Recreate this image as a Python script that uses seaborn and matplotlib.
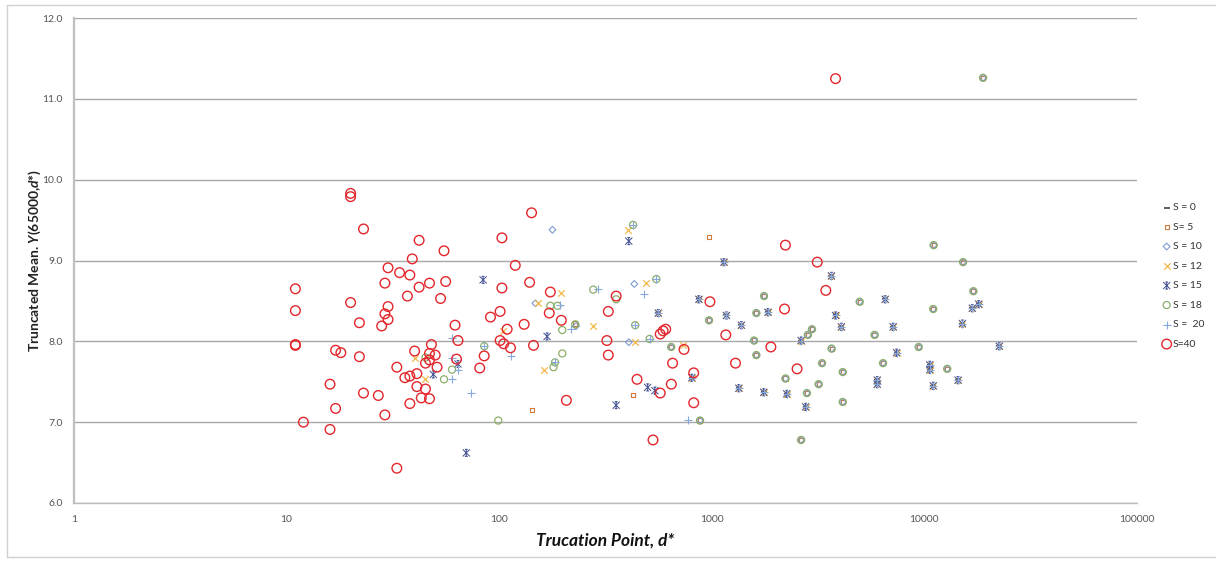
import numpy as np
import matplotlib
matplotlib.use("Agg")
import matplotlib.pyplot as plt
from matplotlib.path import Path
from matplotlib.markers import MarkerStyle
from matplotlib.lines import Line2D
import seaborn as sns

# ---------------- data ----------------
# truncation point d* (x) and truncated mean (y) for each series S
s40_x = [11, 11, 11, 11, 12, 16, 16, 17, 17, 18, 20, 20, 20, 22, 22, 23, 23, 27, 28, 29,
         29, 29, 30, 30, 30, 33, 33, 34, 36, 37, 38, 38, 38, 39, 40, 41, 41, 42, 42, 43,
         45, 45, 47, 47, 47, 47, 48, 50, 51, 53, 55, 56,
         62, 63, 64, 81, 85, 91, 101, 101, 103, 103, 105, 109, 113, 119, 131, 139, 142, 145,
         172, 174, 196, 207, 321, 326, 326, 355, 445, 529, 572, 572, 590, 607, 645, 654,
         740, 822, 822, 980, 1164, 1293, 1896, 2198, 2220, 2519, 3134, 3437, 3820]
s40_y = [8.65, 8.38, 7.96, 7.95, 7.00, 6.91, 7.47, 7.89, 7.17, 7.86, 9.83, 9.79, 8.48, 8.23, 7.81, 9.39, 7.36, 7.33, 8.19, 8.34,
         8.72, 7.09, 8.27, 8.43, 8.91, 6.43, 7.68, 8.85, 7.55, 8.56, 8.82, 7.57, 7.23, 9.02, 7.88, 7.60, 7.44, 9.25, 8.67, 7.30,
         7.41, 7.73, 7.29, 8.72, 7.85, 7.77, 7.96, 7.83, 7.68, 8.53, 9.12, 8.74,
         8.20, 7.78, 8.01, 7.67, 7.82, 8.30, 8.37, 8.01, 9.28, 8.66, 7.97, 8.15, 7.92, 8.94, 8.21, 8.73, 9.59, 7.95,
         8.35, 8.61, 8.26, 7.27, 8.01, 8.37, 7.83, 8.56, 7.53, 6.78, 7.36, 8.09, 8.13, 8.15, 7.47, 7.73,
         7.90, 7.61, 7.24, 8.49, 8.08, 7.73, 7.93, 8.40, 9.19, 7.66, 8.98, 8.63, 11.25]

s15_x = [49, 64, 70, 84, 168, 355, 407, 499, 540]
s15_y = [7.59, 7.72, 6.62, 8.76, 8.06, 7.21, 9.24, 7.43, 7.39]

# large-d* points where S = 0, 12, 15 and 20 coincide
common_x = [560, 805, 869, 1140, 1172, 1340, 1377, 1755, 1838, 2250, 2630, 2760, 3656, 3820,
            4070, 6000, 6000, 6540, 7130, 7400, 10600, 10600, 11000, 14400, 15100, 16800,
            18000, 22500]
common_y = [8.35, 7.55, 8.52, 8.98, 8.32, 7.42, 8.20, 7.37, 8.36, 7.35, 8.01, 7.19, 8.81, 8.32,
            8.18, 7.52, 7.47, 8.52, 8.18, 7.86, 7.71, 7.65, 7.45, 7.52, 8.22, 8.41,
            8.46, 7.94]

s18_x = [45, 55, 60, 85, 99, 174, 180, 183, 188, 198, 198, 228, 277, 355, 426, 436, 510, 548]
s18_y = [7.80, 7.53, 7.65, 7.94, 7.02, 8.44, 7.68, 7.74, 8.44, 8.14, 7.85, 8.21, 8.64, 8.52, 9.44, 8.20, 8.03, 8.77]

# large-d* points where S = 5, 10 and 18 coincide
ring_x = [644, 880, 970, 1580, 1620, 1620, 1760, 2220, 2630, 2800, 2830, 2960, 3180, 3300,
          3660, 4130, 4130, 4960, 5830, 6390, 9400, 11000, 11050, 12800, 15200, 17000, 18870]
ring_y = [7.93, 7.02, 8.26, 8.01, 8.35, 7.83, 8.56, 7.54, 6.78, 7.36, 8.08, 8.15, 7.47, 7.73,
          7.91, 7.62, 7.25, 8.49, 8.08, 7.73, 7.93, 8.40, 9.19, 7.66, 8.98, 8.62, 11.26]

s20_x = [60, 60, 60, 64, 74, 85, 114, 183, 194, 218, 292, 426, 436, 482, 510, 548, 775]
s20_y = [8.04, 7.80, 7.53, 7.65, 7.36, 7.94, 7.82, 7.74, 8.45, 8.15, 8.65, 9.44, 8.20, 8.58, 8.03, 8.77, 7.03]

s12_x = [40, 45, 104, 153, 163, 196, 277, 403, 433, 490, 735]
s12_y = [7.80, 7.53, 8.13, 8.48, 7.65, 8.60, 8.19, 9.38, 7.99, 8.72, 7.96]

s10_x = [148, 178, 230, 407, 432]
s10_y = [8.47, 9.38, 8.19, 7.99, 8.71]

s5_x = [143, 228, 426, 971]
s5_y = [7.15, 8.22, 7.34, 9.29]

series_labels = ["S = 0", "S= 5", "S = 10", "S = 12", "S = 15", "S = 18", "S =  20", "S=40"]
y_ticks = [6.0, 7.0, 8.0, 9.0, 10.0, 11.0, 12.0]
x_ticks = [1, 10, 100, 1000, 10000, 100000]
x_tick_labels = ["1", "10", "100", "1000", "10000", "100000"]

# ---------------- style ----------------
sns.set_theme(style="white")
plt.rcParams["font.family"] = ["Lato", "DejaVu Sans"]
plt.rcParams["mathtext.fontset"] = "custom"
plt.rcParams["mathtext.it"] = "Lato:italic:bold"
plt.rcParams["mathtext.rm"] = "Lato:bold"

W, H = 1216, 564
fig = plt.figure(figsize=(W / 100, H / 100), dpi=100)
fig.patch.set_facecolor("white")
ax = fig.add_axes([74 / W, 1 - 503 / H, (1137 - 74) / W, (503 - 18) / H])

# asterisk with short caps, like a spreadsheet "star" marker
star_path = Path(
    [(-1, -1), (1, 1), (-1, 1), (1, -1), (0, -1), (0, 1), (-0.4, 1), (0.4, 1), (-0.4, -1), (0.4, -1)],
    [Path.MOVETO, Path.LINETO, Path.MOVETO, Path.LINETO, Path.MOVETO, Path.LINETO,
     Path.MOVETO, Path.LINETO, Path.MOVETO, Path.LINETO])


def draw(xs, ys, marker, size, color, lw, label, z):
    if MarkerStyle(marker).is_filled():
        sns.scatterplot(x=xs, y=ys, ax=ax, marker=marker, s=size, facecolor="none",
                        edgecolor=color, linewidth=lw, label=label, zorder=z, legend=False)
    else:
        sns.scatterplot(x=xs, y=ys, ax=ax, marker=marker, s=size, color=color,
                        linewidth=lw, label=label, zorder=z, legend=False)


draw(common_x, common_y, "_", 22, "#3F4352", 1.2, series_labels[0], 3)
draw(s5_x + ring_x, s5_y + ring_y, "s", 9, "#D07A3C", 0.8, series_labels[1], 3)
draw(s10_x + ring_x, s10_y + ring_y, "D", 12, "#7E9BD0", 0.8, series_labels[2], 3)
draw(s12_x + common_x, s12_y + common_y, "x", 22, "#F2B84B", 0.9, series_labels[3], 3)
draw(s15_x + common_x, s15_y + common_y, star_path, 26, "#4B5796", 0.75, series_labels[4], 3)
draw(s18_x + ring_x, s18_y + ring_y, "o", 26, "#8CAE6A", 0.9, series_labels[5], 3)
draw(s20_x + common_x, s20_y + common_y, "+", 30, "#86A8DC", 0.8, series_labels[6], 3)
draw(s40_x, s40_y, "o", 48, "#E3262C", 1.0, series_labels[7], 4)

# ---------------- axes ----------------
ax.set_xscale("log")
ax.set_xlim(1, 100000)
ax.set_ylim(6, 12)
ax.set_yticks(y_ticks)
ax.set_yticklabels([f"{v:.1f}" for v in y_ticks])
ax.set_xticks(x_ticks)
ax.set_xticklabels(x_tick_labels)
ax.xaxis.set_minor_locator(matplotlib.ticker.NullLocator())
ax.grid(axis="y", color="#A8A8A8", linewidth=1.0)
ax.grid(axis="x", visible=False)
ax.set_axisbelow(True)
ax.tick_params(axis="both", length=0, labelsize=7.5, colors="#555555")
ax.tick_params(axis="x", pad=9)
ax.tick_params(axis="y", pad=8)
for side in ("top", "right"):
    ax.spines[side].set_visible(False)
ax.spines["left"].set_color("#BFBFBF")
ax.spines["left"].set_linewidth(1.6)
ax.spines["bottom"].set_color("#BDBDBD")
ax.spines["bottom"].set_linewidth(1.0)

ax.set_ylabel(r"Truncated Mean. $Y$(65000,$d$*)", fontsize=10, fontweight="bold",
              color="#222222", labelpad=0)
ax.set_xlabel("Trucation Point, d*", fontsize=12.5, fontweight="bold", fontstyle="italic",
              color="#111111", labelpad=6)

handles, labels = ax.get_legend_handles_labels()
leg = fig.legend(handles, labels, loc="upper left", bbox_to_anchor=(1163 / W, 1 - 203 / H),
                 frameon=False, fontsize=7.5, labelspacing=0.98, handlelength=0.7,
                 handletextpad=0.25, borderpad=0, borderaxespad=0)
for t in leg.get_texts():
    t.set_color("#333333")

# chart-area frame
fig.add_artist(Line2D([7 / W, 7 / W], [1 - 557 / H, 1 - 5 / H], color="#D0D0D0", lw=1.0))
fig.add_artist(Line2D([7 / W, 1.0], [1 - 5 / H, 1 - 5 / H], color="#D0D0D0", lw=1.0))
fig.add_artist(Line2D([7 / W, 1.0], [1 - 557 / H, 1 - 557 / H], color="#D0D0D0", lw=1.0))

fig.savefig("out.png", dpi=100)
